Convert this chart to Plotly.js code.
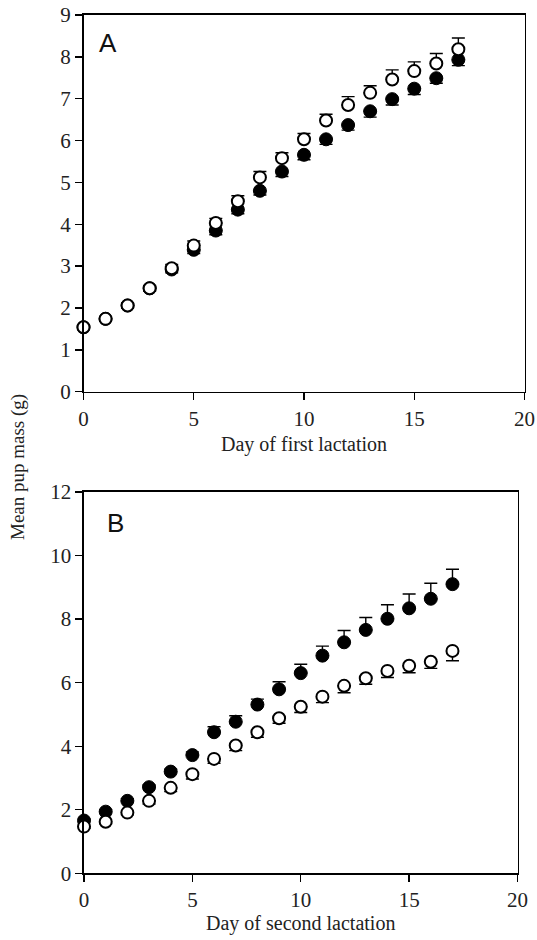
<!DOCTYPE html>
<html>
<head>
<meta charset="utf-8">
<script src="https://cdn.plot.ly/plotly-3.0.1.min.js"></script>
<style>html,body{margin:0;padding:0;background:#fff;}#chart{width:537px;height:940px;}</style>
</head>
<body>
<div id="chart"></div>
<script>
// Panel A: first lactation
const daysA = [0,1,2,3,4,5,6,7,8,9,10,11,12,13,14,15,16,17];
const openA = [1.54,1.74,2.06,2.47,2.95,3.49,4.03,4.55,5.12,5.58,6.03,6.48,6.85,7.14,7.46,7.66,7.84,8.18];
const openAErrUp = [0.05,0.05,0.06,0.07,0.09,0.11,0.11,0.13,0.14,0.13,0.14,0.15,0.20,0.17,0.23,0.22,0.24,0.27];
const filledA = [1.54,1.74,2.06,2.47,2.92,3.39,3.85,4.35,4.80,5.26,5.66,6.03,6.37,6.70,6.99,7.24,7.49,7.93];
const filledAErrDown = [0.05,0.05,0.06,0.07,0.08,0.09,0.10,0.10,0.10,0.12,0.12,0.12,0.12,0.14,0.14,0.14,0.12,0.14];

// Panel B: second lactation
const daysB = [0,1,2,3,4,5,6,7,8,9,10,11,12,13,14,15,16,17];
const filledB = [1.66,1.94,2.28,2.71,3.20,3.72,4.44,4.77,5.31,5.79,6.30,6.85,7.27,7.66,8.01,8.34,8.64,9.10];
const filledBErrUp = [0.05,0.06,0.07,0.07,0.08,0.10,0.17,0.19,0.17,0.24,0.28,0.30,0.37,0.39,0.44,0.45,0.49,0.47];
const openB = [1.47,1.62,1.91,2.28,2.69,3.12,3.60,4.02,4.44,4.88,5.24,5.56,5.90,6.14,6.37,6.53,6.66,7.00];
const openBErrDown = [0.05,0.06,0.07,0.10,0.12,0.15,0.14,0.16,0.16,0.16,0.18,0.19,0.22,0.19,0.21,0.22,0.21,0.31];

const panelLabels = ['A','B'];
const xTitles = ['Day of first lactation','Day of second lactation'];
const yTitle = 'Mean pup mass (g)';

const zeros = n => new Array(n).fill(0);
const W = 537, H = 940;
const px = v => v / W, py = v => 1 - v / H;
const SERIF = 'Liberation Serif';
const SANS = 'Liberation Sans';

function errBar(up, down){
  return {type:'data', symmetric:false, array:up, arrayminus:down, color:'#000', thickness:1.4, width:6.5, visible:true};
}
const filledMarker = {symbol:'circle', size:13, color:'#000', line:{color:'#000', width:1}};
const openMarker = {symbol:'circle', size:12, color:'#fff', line:{color:'#000', width:2}};

const traces = [
  {x:daysA, y:filledA, xaxis:'x', yaxis:'y', mode:'markers', marker:filledMarker, error_y:errBar(zeros(18), filledAErrDown), cliponaxis:false, showlegend:false},
  {x:daysA, y:openA, xaxis:'x', yaxis:'y', mode:'markers', marker:openMarker, error_y:errBar(openAErrUp, zeros(18)), cliponaxis:false, showlegend:false},
  {x:daysB, y:filledB, xaxis:'x2', yaxis:'y2', mode:'markers', marker:filledMarker, error_y:errBar(filledBErrUp, zeros(18)), cliponaxis:false, showlegend:false},
  {x:daysB, y:openB, xaxis:'x2', yaxis:'y2', mode:'markers', marker:openMarker, error_y:errBar(zeros(18), openBErrDown), cliponaxis:false, showlegend:false}
];

function axisCommon(){
  return {showline:true, linecolor:'#000', linewidth:1.6, mirror:true, ticks:'outside', ticklen:7, tickwidth:1.4, tickcolor:'#000',
          showgrid:false, zeroline:false, tickfont:{family:SERIF, size:21, color:'#222'}, fixedrange:true};
}

const layout = {
  width:W, height:H, margin:{l:0,r:0,t:0,b:0}, paper_bgcolor:'#fff', plot_bgcolor:'#fff', showlegend:false,
  font:{family:SERIF, size:20, color:'#222'},
  xaxis: Object.assign(axisCommon(), {domain:[px(83.5), px(524.5)], range:[0,20], tickvals:[0,5,10,15,20], anchor:'y'}),
  yaxis: Object.assign(axisCommon(), {domain:[py(391.7), py(15)], range:[0,9], tickvals:[0,1,2,3,4,5,6,7,8,9], anchor:'x'}),
  xaxis2: Object.assign(axisCommon(), {domain:[px(84), px(517.5)], range:[0,20], tickvals:[0,5,10,15,20], anchor:'y2'}),
  yaxis2: Object.assign(axisCommon(), {domain:[py(873.3), py(492)], range:[0,12], tickvals:[0,2,4,6,8,10,12], anchor:'x2'}),
  annotations: [
    {text:panelLabels[0], xref:'paper', yref:'paper', x:px(108), y:py(43), xanchor:'center', yanchor:'middle', showarrow:false,
     font:{family:SANS, size:26, color:'#111'}},
    {text:panelLabels[1], xref:'paper', yref:'paper', x:px(115), y:py(523), xanchor:'center', yanchor:'middle', showarrow:false,
     font:{family:SANS, size:26, color:'#111'}},
    {text:xTitles[0], xref:'paper', yref:'paper', x:px(304), y:py(445), xanchor:'center', yanchor:'middle', showarrow:false,
     font:{family:SERIF, size:20, color:'#222'}},
    {text:xTitles[1], xref:'paper', yref:'paper', x:px(300), y:py(923), xanchor:'center', yanchor:'middle', showarrow:false,
     font:{family:SERIF, size:20, color:'#222'}},
    {text:yTitle, xref:'paper', yref:'paper', x:px(18), y:py(467), xanchor:'center', yanchor:'middle', textangle:-90, showarrow:false,
     font:{family:SERIF, size:19, color:'#222'}}
  ]
};

Plotly.newPlot('chart', traces, layout, {staticPlot:true, displayModeBar:false});
</script>
</body>
</html>
